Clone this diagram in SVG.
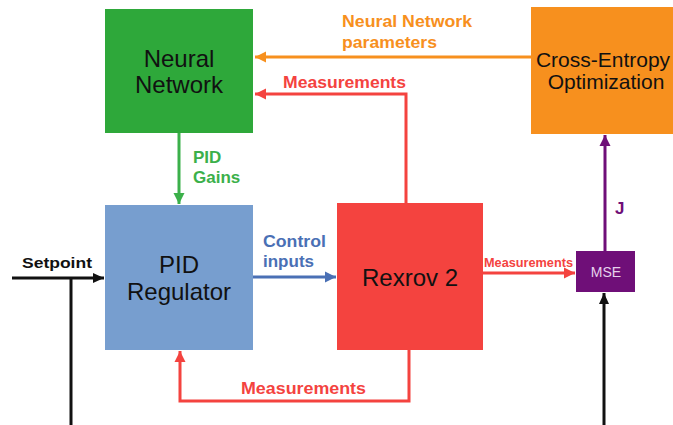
<svg xmlns="http://www.w3.org/2000/svg" width="673" height="425" viewBox="0 0 673 425">
<style>
.box{font-family:"Liberation Sans",Arial,sans-serif;font-size:24px;fill:#111;text-anchor:middle}
.lbl{font-family:"Liberation Sans",Arial,sans-serif;font-weight:bold;font-size:17px}
.ln{fill:none;stroke-width:3}
</style>
<defs>
<marker id="aO" markerUnits="userSpaceOnUse" markerWidth="12" markerHeight="12" refX="11" refY="6" orient="auto"><path d="M0,0.5 L11,6 L0,11.5 z" fill="#f7901e"/></marker>
<marker id="aR" markerUnits="userSpaceOnUse" markerWidth="12" markerHeight="12" refX="11" refY="6" orient="auto"><path d="M0,0.5 L11,6 L0,11.5 z" fill="#f4433f"/></marker>
<marker id="aG" markerUnits="userSpaceOnUse" markerWidth="12" markerHeight="12" refX="11" refY="6" orient="auto"><path d="M0,0.5 L11,6 L0,11.5 z" fill="#3bb04a"/></marker>
<marker id="aB" markerUnits="userSpaceOnUse" markerWidth="12" markerHeight="12" refX="11" refY="6" orient="auto"><path d="M0,0.5 L11,6 L0,11.5 z" fill="#4a70b5"/></marker>
<marker id="aP" markerUnits="userSpaceOnUse" markerWidth="12" markerHeight="12" refX="11" refY="6" orient="auto"><path d="M0,0.5 L11,6 L0,11.5 z" fill="#6f0f78"/></marker>
<marker id="aK" markerUnits="userSpaceOnUse" markerWidth="12" markerHeight="12" refX="11" refY="6" orient="auto"><path d="M0,1 L11,6 L0,11 z" fill="#111"/></marker>
</defs>
<rect width="673" height="425" fill="#fff"/>
<g id="connectors">
<path class="ln" d="M531,57 H255" stroke="#f7901e" marker-end="url(#aO)"/>
<path class="ln" d="M406,203 V94 H255" stroke="#f4433f" marker-end="url(#aR)"/>
<path class="ln" d="M179,133 V204" stroke="#3bb04a" marker-end="url(#aG)"/>
<path class="ln" d="M605,251 V135" stroke="#6f0f78" marker-end="url(#aP)"/>
<path class="ln" d="M12,278 H104" stroke="#111" marker-end="url(#aK)"/>
<path class="ln" d="M71,278 V425" stroke="#111"/>
<path class="ln" d="M253,277 H336" stroke="#4a70b5" marker-end="url(#aB)"/>
<path class="ln" d="M483,273 H575" stroke="#f4433f" marker-end="url(#aR)"/>
<path class="ln" d="M604,425 V293" stroke="#111" marker-end="url(#aK)"/>
<path class="ln" d="M409,350 V401 H180 V351" stroke="#f4433f" marker-end="url(#aR)"/>
<text class="lbl" fill="#f7901e" x="342" y="27" textLength="130" lengthAdjust="spacingAndGlyphs">Neural Network</text>
<text class="lbl" fill="#f7901e" x="342" y="48" textLength="95" lengthAdjust="spacingAndGlyphs">parameters</text>
<text class="lbl" fill="#f4433f" x="283" y="88" textLength="123" lengthAdjust="spacingAndGlyphs">Measurements</text>
<text class="lbl" fill="#3bb04a" x="193" y="163">PID</text>
<text class="lbl" fill="#3bb04a" x="193" y="183">Gains</text>
<text class="lbl" fill="#6f0f78" x="615" y="214">J</text>
<text class="lbl" fill="#4a70b5" x="263" y="247" textLength="63" lengthAdjust="spacingAndGlyphs">Control</text>
<text class="lbl" fill="#4a70b5" x="263" y="267">inputs</text>
<text class="lbl" fill="#111" x="22" y="268" style="font-size:15px" textLength="70" lengthAdjust="spacingAndGlyphs">Setpoint</text>
<text class="lbl" fill="#f4433f" x="484" y="267" style="font-size:12.5px" textLength="89" lengthAdjust="spacingAndGlyphs">Measurements</text>
<text class="lbl" fill="#f4433f" x="241" y="394" textLength="125" lengthAdjust="spacingAndGlyphs">Measurements</text>
</g>
<g id="neural-network">
<rect x="105" y="9" width="148" height="124" fill="#2ea83a"/>
<text class="box" x="179" y="67">Neural</text>
<text class="box" x="179" y="93">Network</text>
</g>
<g id="pid-regulator">
<rect x="105" y="205" width="148" height="145" fill="#779ecf"/>
<text class="box" x="179" y="273">PID</text>
<text class="box" x="179" y="300">Regulator</text>
</g>
<g id="rexrov2">
<rect x="337" y="203" width="146" height="147" fill="#f4433f"/>
<text class="box" x="410" y="286">Rexrov 2</text>
</g>
<g id="cross-entropy">
<rect x="531" y="7" width="142" height="127" fill="#f7901e"/>
<text class="box" x="603" y="67" style="font-size:21px">Cross-Entropy</text>
<text class="box" x="606" y="89" style="font-size:21px">Optimization</text>
</g>
<g id="mse">
<rect x="576" y="251" width="59" height="41" fill="#6f0f78"/>
<text x="606" y="277" text-anchor="middle" font-family="Liberation Sans, Arial, sans-serif" font-size="14" fill="#e6d2ec">MSE</text>
</g>
</svg>
